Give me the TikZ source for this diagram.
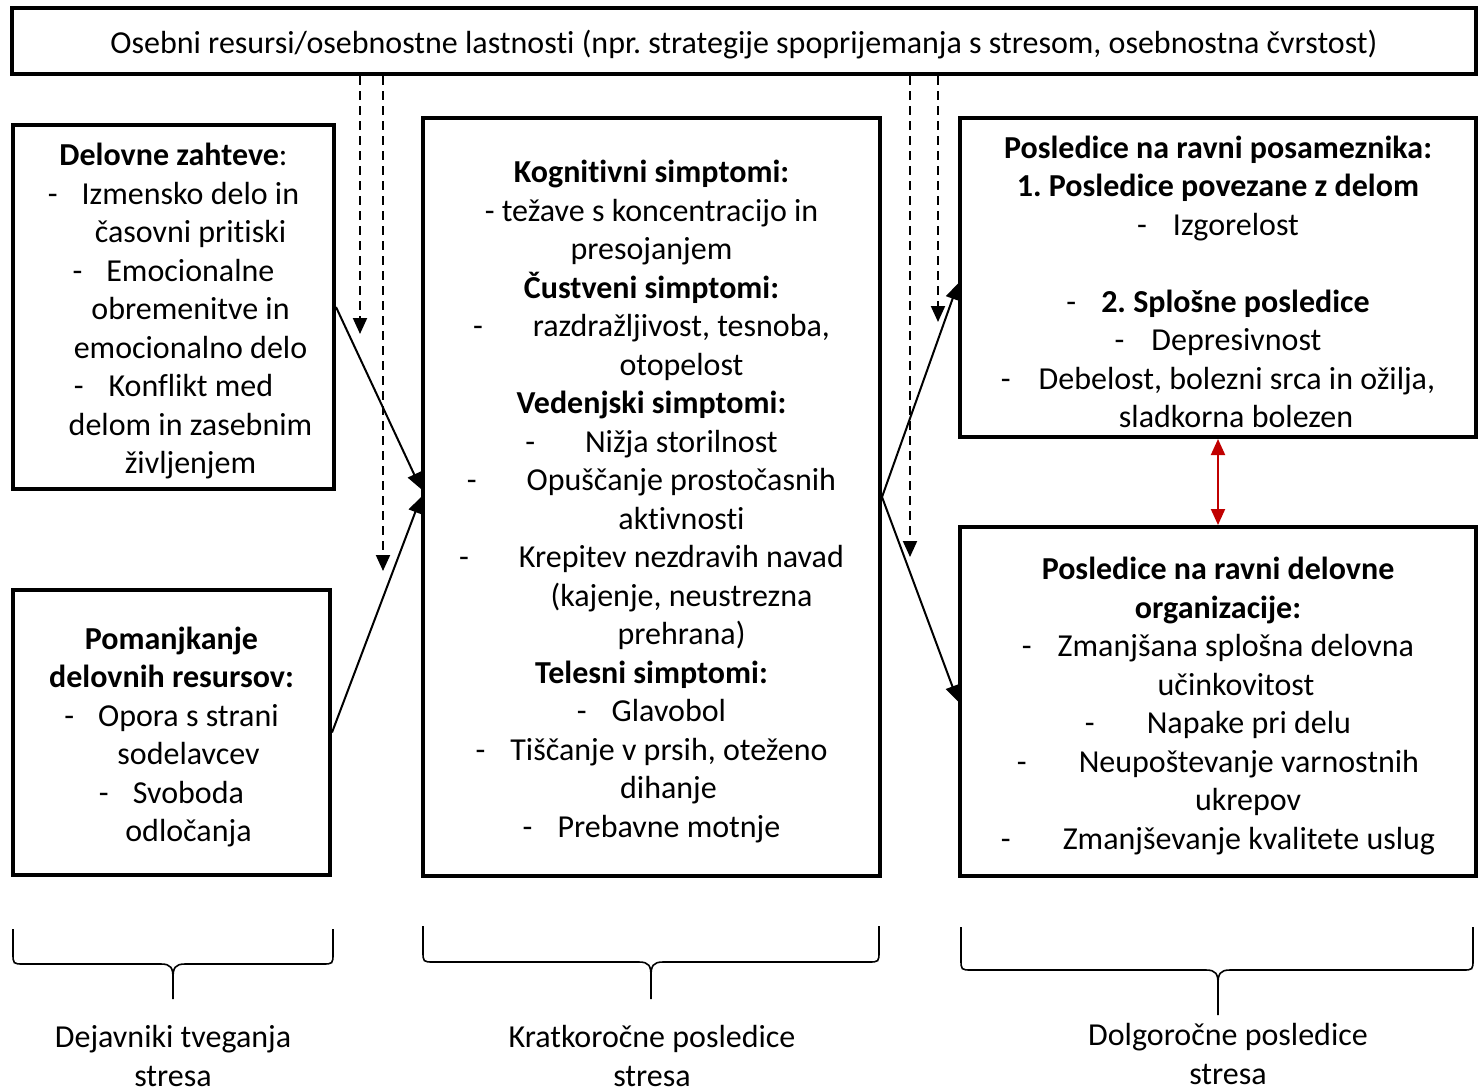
\documentclass[tikz,border=0pt]{standalone}
\usepackage{fontspec}
\setmainfont{Carlito}[Ligatures={NoCommon}]
\usetikzlibrary{arrows.meta,calc}
\newcommand\shr[1]{\hspace*{#1bp}}
\newcommand\dsh[1]{-\hspace{#1bp}}
\newcommand\topstrut{\rule{0pt}{31bp}}
\frenchspacing
\begin{document}
\begin{tikzpicture}[x=1bp,y=-1bp,
  every node/.style={font=\fontsize{32bp}{38.5bp}\selectfont},
  box/.style={draw, line width=4bp, align=center, inner sep=0pt},
  solidarrow/.style={line width=2bp, -{Triangle[length=16bp,width=14bp]}},
  dasharrow/.style={line width=2bp, dash pattern=on 9bp off 6bp, -{Triangle[length=16bp,width=14bp]}},
  redarrow/.style={line width=2bp, draw={rgb,255:red,192;green,0;blue,0}, {Triangle[length=16bp,width=14bp]}-{Triangle[length=16bp,width=14bp]}},
  bracepath/.style={line width=1.6bp},
  label/.style={align=center}]
\useasboundingbox (0,0) rectangle (1480,1087);

% boxes
\node[box, minimum width=1464bp, minimum height=66bp] (top) at (744,41)
  {\topstrut Osebni resursi/osebnostne lastnosti (npr. strategije spoprijemanja s stresom, osebnostna čvrstost)};

\node[box, minimum width=321bp, minimum height=364bp] (b1) at (173.5,307)
  {\topstrut\textbf{Delovne zahteve}:\\
   \dsh{24}Izmensko delo in\\
   \shr{34}časovni pritiski\\
   \dsh{24}Emocionalne\\
   \shr{34}obremenitve in\\
   \shr{34}emocionalno delo\\
   \dsh{25}Konflikt med\\
   \shr{34}delom in zasebnim\\
   \shr{34}življenjem};

\node[box, minimum width=317bp, minimum height=285bp] (b2) at (171.5,732.5)
  {\topstrut\textbf{Pomanjkanje}\\
   \textbf{delovnih resursov:}\\
   \dsh{24}Opora s strani\\
   \shr{34}sodelavcev\\
   \dsh{24}Svoboda\\
   \shr{34}odločanja};

\node[box, minimum width=457bp, minimum height=758bp] (c) at (651.5,497)
  {\topstrut\textbf{Kognitivni simptomi:}\\
   - težave s koncentracijo in\\
   presojanjem\\
   \textbf{Čustveni simptomi:}\\
   \dsh{50}razdražljivost, tesnoba,\\
   \shr{60}otopelost\\
   \textbf{Vedenjski simptomi:}\\
   \dsh{50}Nižja storilnost\\
   \dsh{50}Opuščanje prostočasnih\\
   \shr{60}aktivnosti\\
   \dsh{50}Krepitev nezdravih navad\\
   \shr{60}(kajenje, neustrezna\\
   \shr{60}prehrana)\\
   \textbf{Telesni simptomi:}\\
   \dsh{25}Glavobol\\
   \dsh{25}Tiščanje v prsih, oteženo\\
   \shr{34}dihanje\\
   \dsh{25}Prebavne motnje};

\node[box, minimum width=516bp, minimum height=319bp] (rt) at (1218,277.5)
  {\topstrut\textbf{Posledice na ravni posameznika:}\\
   \textbf{1. Posledice povezane z delom}\\
   \dsh{26}Izgorelost\\
   \mbox{}\\
   \dsh{25}\textbf{2. Splošne posledice}\\
   \dsh{27}Depresivnost\\
   \dsh{28}Debelost, bolezni srca in ožilja,\\
   \shr{36}sladkorna bolezen};

\node[box, minimum width=516bp, minimum height=349bp] (rb) at (1218,701.5)
  {\topstrut\textbf{Posledice na ravni delovne}\\
   \textbf{organizacije:}\\
   \dsh{26}Zmanjšana splošna delovna\\
   \shr{36}učinkovitost\\
   \dsh{52}Napake pri delu\\
   \dsh{52}Neupoštevanje varnostnih\\
   \shr{60}ukrepov\\
   \dsh{52}Zmanjševanje kvalitete uslug};

% solid arrows
\draw[solidarrow] (b1.east) -- ($(c.west)+(0,-8)$);
\draw[solidarrow] (b2.east) -- (c.west);
\draw[solidarrow] (c.east) -- ($(rt.west)+(0,6)$);
\draw[solidarrow] (c.east) -- (rb.west);

% dashed arrows from personal resources
\coordinate (d1) at (360,334);
\coordinate (d2) at (383,571);
\coordinate (d3) at (910,557);
\coordinate (d4) at (938,322);
\draw[dasharrow] (d1 |- top.south) -- (d1);
\draw[dasharrow] (d2 |- top.south) -- (d2);
\draw[dasharrow] (d3 |- top.south) -- (d3);
\draw[dasharrow] (d4 |- top.south) -- (d4);

% red double arrow
\draw[redarrow] (rt.south) -- (rb.north);

% braces
\draw[bracepath] (13,929) -- (13,953) .. controls (13,964) and (13,964) .. (24,964) -- (161,964)
  .. controls (171,964) and (173,968) .. (173,978) -- (173,999);
\draw[bracepath] (333,929) -- (333,953) .. controls (333,964) and (333,964) .. (322,964) -- (185,964)
  .. controls (175,964) and (173,968) .. (173,978);
\draw[bracepath] (423,926) -- (423,951) .. controls (423,962) and (423,962) .. (434,962) -- (639,962)
  .. controls (649,962) and (651,966) .. (651,976) -- (651,999);
\draw[bracepath] (879,926) -- (879,951) .. controls (879,962) and (879,962) .. (868,962) -- (663,962)
  .. controls (653,962) and (651,966) .. (651,976);
\draw[bracepath] (961,927) -- (961,959) .. controls (961,970) and (961,970) .. (972,970) -- (1206,970)
  .. controls (1216,970) and (1218,974) .. (1218,984) -- (1218,1015);
\draw[bracepath] (1473,927) -- (1473,959) .. controls (1473,970) and (1473,970) .. (1462,970) -- (1230,970)
  .. controls (1220,970) and (1218,974) .. (1218,984);

% bottom labels
\node[label] (l1) at (173,1056) {Dejavniki tveganja\\stresa};
\node[label] (l2) at (652,1056) {Kratkoročne posledice\\stresa};
\node[label] (l3) at (1228,1054) {Dolgoročne posledice\\stresa};
\end{tikzpicture}
\end{document}
